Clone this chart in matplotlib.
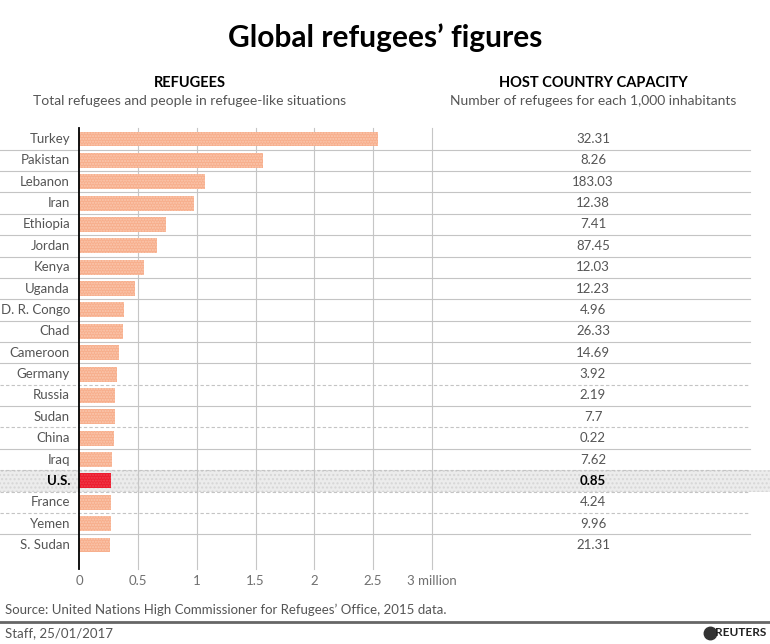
import matplotlib.pyplot as plt
from matplotlib.transforms import blended_transform_factory
from matplotlib.patches import Rectangle

plt.rcParams['font.family'] = ['Lato', 'DejaVu Sans']

countries = ["Turkey", "Pakistan", "Lebanon", "Iran", "Ethiopia", "Jordan", "Kenya",
             "Uganda", "D. R. Congo", "Chad", "Cameroon", "Germany", "Russia", "Sudan",
             "China", "Iraq", "U.S.", "France", "Yemen", "S. Sudan"]
refugees_m = [2.54, 1.56, 1.07, 0.98, 0.74, 0.66, 0.55, 0.48, 0.38, 0.37, 0.34, 0.32,
              0.31, 0.31, 0.30, 0.28, 0.27, 0.27, 0.27, 0.26]
capacity = ["32.31", "8.26", "183.03", "12.38", "7.41", "87.45", "12.03", "12.23", "4.96",
            "26.33", "14.69", "3.92", "2.19", "7.7", "0.22", "7.62", "0.85", "4.24", "9.96",
            "21.31"]
xticks = [0, 0.5, 1, 1.5, 2, 2.5, 3]
xtick_labels = ["0", "0.5", "1", "1.5", "2", "2.5", "3 million"]
highlight = "U.S."

W, H = 770, 644
fig = plt.figure(figsize=(W / 100, H / 100), dpi=100)

def fx(px):
    return px / W

def fy(py):
    return 1 - py / H

ax = fig.add_axes([fx(79), fy(568.5), fx(353), 440.2 / H])
n = len(countries)
ys = list(range(n))
colors = ["#ec1c2e" if c == highlight else "#f7ae8c" for c in countries]
hatchc = ["#f0404f" if c == highlight else "#fbc9b0" for c in countries]
bars = ax.barh(ys, refugees_m, height=0.7, color=colors, edgecolor=hatchc,
               linewidth=0, hatch="......", zorder=3)

ax.set_xlim(0, 3)
ax.set_ylim(n + 0.1, -0.5)
ax.set_yticks([])
ax.set_xticks(xticks)
ax.set_xticklabels(xtick_labels, color="#707070", fontsize=9.5)
ax.tick_params(axis="x", length=0, pad=5)
for s in ["top", "right", "bottom"]:
    ax.spines[s].set_visible(False)
ax.spines["left"].set_color("black")
ax.spines["left"].set_linewidth(1.3)
ax.spines["left"].set_zorder(5)
for xv in xticks[1:]:
    ax.axvline(xv, color="#c6c6c6", lw=0.8, zorder=1, clip_on=False)

tr = blended_transform_factory(fig.transFigure, ax.transData)

# highlighted row background
hi = countries.index(highlight)
ax.add_patch(Rectangle((0, hi - 0.5), 1, 1, transform=tr, facecolor="#ececec",
                       edgecolor="#d6d6d6", linewidth=0, hatch="....",
                       zorder=0, clip_on=False))

# row separators
dashed = {11, 13, 15, 16, 17}
for i in range(n - 1):
    ls = (0, (3, 2)) if i in dashed else "-"
    ax.plot([0, fx(750)], [i + 0.5, i + 0.5], transform=tr, color="#c4c4c4",
            lw=0.8, ls=ls, zorder=2, clip_on=False)

for i, (c, v) in enumerate(zip(countries, capacity)):
    hl = c == highlight
    ax.text(fx(70), i, c, transform=tr, ha="right", va="center", fontsize=9.5,
            color="black" if hl else "#555555", fontweight="bold" if hl else "normal")
    ax.text(fx(593), i, v, transform=tr, ha="center", va="center", fontsize=9.5,
            color="black" if hl else "#555555", fontweight="bold" if hl else "normal")

fig.text(0.5, fy(38), "Global refugees\u2019 figures", ha="center", va="center",
         fontsize=21.5, fontweight="bold", color="black")
fig.text(fx(190), fy(83), "REFUGEES", ha="center", va="center", fontsize=10.5,
         fontweight="bold", color="black")
fig.text(fx(190), fy(101), "Total refugees and people in refugee-like situations",
         ha="center", va="center", fontsize=10, color="#555555")
fig.text(fx(593), fy(83), "HOST COUNTRY CAPACITY", ha="center", va="center",
         fontsize=10.5, fontweight="bold", color="black")
fig.text(fx(593), fy(101), "Number of refugees for each 1,000 inhabitants",
         ha="center", va="center", fontsize=10, color="#555555")

fig.text(fx(5), fy(610), "Source: United Nations High Commissioner for Refugees\u2019 Office, 2015 data.",
         ha="left", va="center", fontsize=9.5, color="#555555")
fig.add_artist(plt.Line2D([0, 1], [fy(622), fy(622)], color="#666666", lw=2))
fig.text(fx(5), fy(633), "Staff, 25/01/2017", ha="left", va="center", fontsize=9.5,
         color="#555555")
fig.text(fx(766), fy(633), "REUTERS", ha="right", va="center", fontsize=8.5,
         fontweight="bold", color="#222222")
fig.add_artist(plt.Line2D([fx(710)], [fy(633)], marker="o", markersize=9,
                          color="#333333", markeredgecolor="#333333"))

fig.savefig("out.png", dpi=100, facecolor="white")
